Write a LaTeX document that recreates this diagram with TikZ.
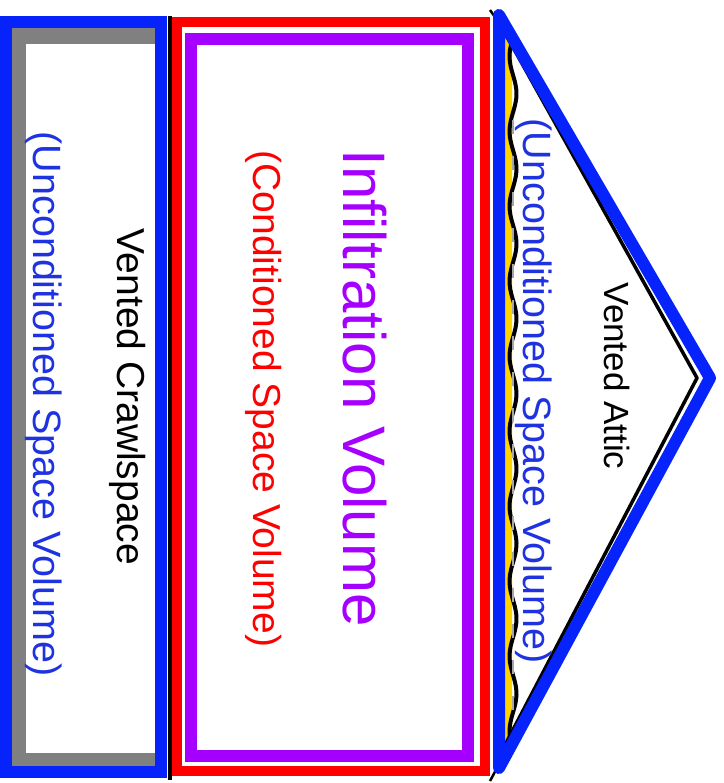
\documentclass[tikz,border=0pt]{standalone}
\usepackage{fontspec}
\setmainfont{Liberation Sans}
\definecolor{wallblue}{RGB}{5,35,250}
\definecolor{textblue}{RGB}{30,50,225}
\definecolor{condred}{RGB}{255,0,0}
\definecolor{infpurple}{RGB}{165,0,255}
\definecolor{crawlgray}{RGB}{128,128,128}
\definecolor{insyellow}{RGB}{255,210,0}
\begin{document}
\begin{tikzpicture}[x=1pt,y=-1pt,
  lbl/.style={rotate=-90,anchor=base,inner sep=0pt},
  blueline/.style={draw=wallblue,line width=12pt},
  redline/.style={draw=condred,line width=10pt},
  purpleline/.style={draw=infpurple,line width=12pt}]
\useasboundingbox (0,0) rectangle (723,783);
\fill[white] (0,0) rectangle (723,783);
% crawlspace
\fill[crawlgray] (12,28) rectangle (160,767);
\fill[white] (26,44) rectangle (155,753);
\draw[blueline] (6,22) rectangle (161,772);
\draw[black,line width=4pt] (170,16) -- (170,780);
% conditioned space
\draw[redline] (177,22) rectangle (485,771);
\draw[purpleline] (191,39) rectangle (467.5,756);
% attic
\fill[insyellow] (503,26) -- (512,40) -- (512,740) -- (503,752) -- cycle;
\draw[black,line width=2.5pt] (490,10) -- (497,20);
\draw[black,line width=2.5pt] (490,781) -- (497,768);
\draw[black,line width=3.5pt,line join=round] (505,33) -- (697,378) -- (505,745);
\draw[black,line width=4pt,line cap=round]
  plot[smooth,domain=34:742,samples=90] ({513+3.5*sin(\x*4.8)},\x);
\draw[white!65!black,line width=1.6pt,dash pattern=on 14pt off 22pt]
  (513,120) -- (513,720);
\draw[blueline,line join=round] (499,15) -- (710,378) -- (499,768) -- cycle;
% texts
\node[lbl,font=\fontsize{39}{47}\selectfont] (crawl) at (117,397) {Vented Crawlspace};
\node[lbl,font=\fontsize{39.5}{47}\selectfont,text=textblue] (crawlvol) at (33,404) {(Unconditioned Space Volume)};
\node[lbl,font=\fontsize{60}{70}\selectfont,text=infpurple] (infil) at (343,388) {Infiltration Volume};
\node[lbl,font=\fontsize{39}{47}\selectfont,text=condred] (cond) at (253,399) {(Conditioned Space Volume)};
\node[lbl,font=\fontsize{35}{42}\selectfont] (attic) at (604,376) {Vented Attic};
\node[lbl,font=\fontsize{39.5}{47}\selectfont,text=textblue] (atticvol) at (523,391) {(Unconditioned Space Volume)};
\end{tikzpicture}
\end{document}
